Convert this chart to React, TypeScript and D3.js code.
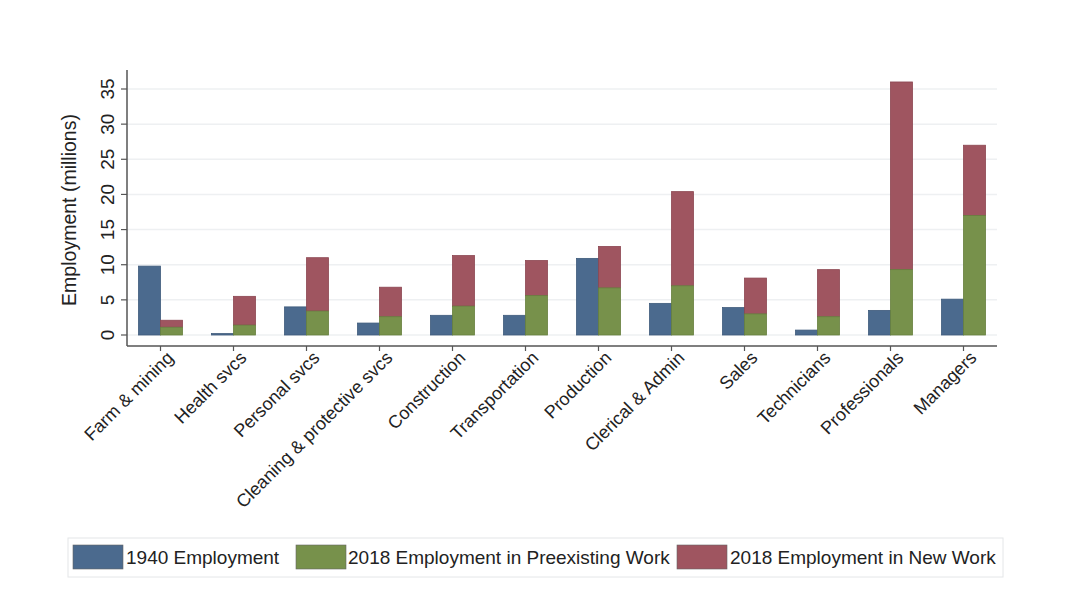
import React from "react";
import * as d3 from "d3";

const categories = [
  "Farm & mining",
  "Health svcs",
  "Personal svcs",
  "Cleaning & protective svcs",
  "Construction",
  "Transportation",
  "Production",
  "Clerical & Admin",
  "Sales",
  "Technicians",
  "Professionals",
  "Managers",
];
const emp1940 = [9.8, 0.2, 4.0, 1.7, 2.8, 2.8, 10.9, 4.5, 3.9, 0.7, 3.5, 5.1];
const emp2018Pre = [1.1, 1.4, 3.4, 2.6, 4.1, 5.6, 6.7, 7.0, 3.0, 2.6, 9.3, 17.0];
const emp2018Total = [2.1, 5.5, 11.0, 6.8, 11.3, 10.6, 12.6, 20.4, 8.1, 9.3, 36.0, 27.0];
const yTicks = [0, 5, 10, 15, 20, 25, 30, 35];
const legendLabels = [
  "1940 Employment",
  "2018 Employment in Preexisting Work",
  "2018 Employment in New Work",
];

const BLUE = "#4b6a8e";
const GREEN = "#77914b";
const RED = "#9f5560";
const FONT = "'Liberation Sans', Arial, sans-serif";

export default function App() {
  const W = 1080;
  const H = 601;
  const axisX = 127;
  const axisY = 346;
  const plotTop = 70;
  const plotRight = 997;

  const x = d3.scaleBand<string>().domain(categories).range([124, 1000]);
  const y = d3.scaleLinear().domain([0, 35]).range([335, 89]);
  const bw = 22;

  const legendItems = [
    { color: BLUE, label: legendLabels[0], sx: 73, tx: 126 },
    { color: GREEN, label: legendLabels[1], sx: 296, tx: 348 },
    { color: RED, label: legendLabels[2], sx: 677, tx: 730 },
  ];

  return (
    <svg
      width={W}
      height={H}
      style={{ position: "absolute", left: 0, top: 0, background: "#fff" }}
      fontFamily={FONT}
    >
      <rect x={0} y={0} width={W} height={H} fill="#fff" />
      {yTicks.map((t) => (
        <line
          key={"g" + t}
          x1={axisX}
          x2={plotRight}
          y1={y(t)}
          y2={y(t)}
          stroke="#eef0f2"
          strokeWidth={1.5}
        />
      ))}
      {categories.map((c, i) => {
        const cx = (x(c) as number) + x.bandwidth() / 2;
        return (
          <g key={c}>
            <rect
              x={cx - bw}
              y={y(emp1940[i])}
              width={bw}
              height={y(0) - y(emp1940[i])}
              fill={BLUE}
              stroke="#3f5b7c"
              strokeWidth={0.8}
            />
            <rect
              x={cx}
              y={y(emp2018Total[i])}
              width={bw}
              height={y(emp2018Pre[i]) - y(emp2018Total[i])}
              fill={RED}
              stroke="#8c4651"
              strokeWidth={0.8}
            />
            <rect
              x={cx}
              y={y(emp2018Pre[i])}
              width={bw}
              height={y(0) - y(emp2018Pre[i])}
              fill={GREEN}
              stroke="#667f3e"
              strokeWidth={0.8}
            />
          </g>
        );
      })}
      <line x1={axisX} x2={axisX} y1={plotTop} y2={axisY} stroke="#555" strokeWidth={1.5} />
      <line x1={axisX} x2={plotRight} y1={axisY} y2={axisY} stroke="#555" strokeWidth={1.5} />
      {yTicks.map((t) => (
        <g key={"t" + t}>
          <line x1={axisX - 6} x2={axisX} y1={y(t)} y2={y(t)} stroke="#555" strokeWidth={1.2} />
          <text
            transform={`translate(${axisX - 13},${y(t)}) rotate(-90)`}
            textAnchor="middle"
            fontSize={19}
            fill="#222"
          >
            {t}
          </text>
        </g>
      ))}
      <text
        transform={`translate(76,${(plotTop + axisY) / 2 + 2}) rotate(-90)`}
        textAnchor="middle"
        fontSize={19.5}
        fill="#222"
      >
        Employment (millions)
      </text>
      {categories.map((c) => {
        const cx = (x(c) as number) + x.bandwidth() / 2;
        return (
          <g key={"l" + c}>
            <line x1={cx} x2={cx} y1={axisY} y2={axisY + 5} stroke="#555" strokeWidth={1.2} />
            <text
              transform={`translate(${cx + 14},${axisY + 13}) rotate(-45)`}
              textAnchor="end"
              fontSize={18}
              fill="#222"
            >
              {c}
            </text>
          </g>
        );
      })}
      <rect x={68} y={538} width={935} height={39} fill="#fff" stroke="#e4e6e8" strokeWidth={1} />
      {legendItems.map((it) => (
        <g key={it.label}>
          <rect x={it.sx} y={545} width={50} height={24} fill={it.color} stroke="#666" strokeWidth={0.6} />
          <text x={it.tx} y={564} fontSize={19} fill="#222">
            {it.label}
          </text>
        </g>
      ))}
    </svg>
  );
}
